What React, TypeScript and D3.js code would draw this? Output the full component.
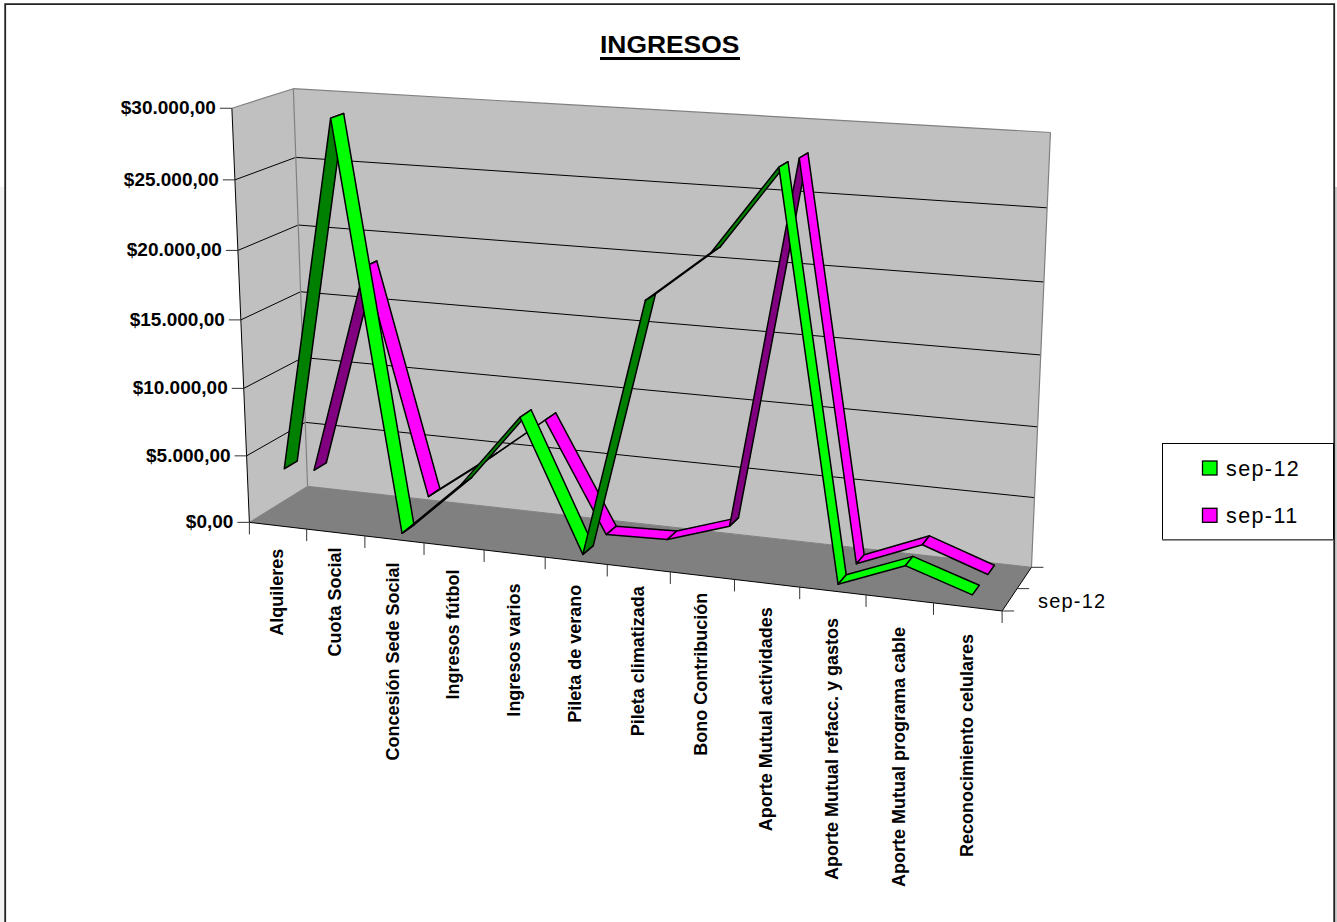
import React from "react";
import * as d3 from "d3";

const categories = ["Alquileres","Cuota Social","Concesión Sede Social","Ingresos fútbol","Ingresos varios","Pileta de verano","Pileta climatizada","Bono Contribución","Aporte Mutual actividades","Aporte Mutual refacc. y gastos","Aporte Mutual programa cable","Reconocimiento celulares"];
const sep12Values = [3900,29500,50,4100,9500,50,18500,22100,28100,50,1900,400];
const sep11Values = [2450,18100,1400,4600,8050,50,200,1700,27900,0,1900,300];
const valueTicks = [0,5000,10000,15000,20000,25000,30000];
const valueLabels = ["$0,00","$5.000,00","$10.000,00","$15.000,00","$20.000,00","$25.000,00","$30.000,00"];
const legendItems = [{name:"sep-12",fill:"#00ff00"},{name:"sep-11",fill:"#ff00ff"}];

// Calibration of the perspective camera: [category, value, depth, screenX, screenY]
const frontFloor = [[0,249.5,521.5],[1,307,529],[2,364.7,536.7],[3,424,544],[4,483.3,551],[5,544,558],[6,608,565],[7,670,572],[8,735,579.3],[9,799,587.3],[10,866,595],[11,934,602.7],[12,1002,610]];
const frontWall = [[5000,247,455],[10000,244,387.7],[15000,241,319],[20000,238,250.7],[25000,235,180],[30000,232,108]];
const backLeft = [[0,307,486],[5000,306,422.3],[10000,303.3,357.7],[15000,300.7,291.7],[20000,298.3,226],[25000,295,157.7],[30000,293,88]];
const backRight = [[0,1032,567],[5000,1034.3,497.7],[10000,1038,426],[15000,1040,354],[20000,1044,283],[25000,1047,208],[30000,1051,133]];
// Gap between the axis line and the end of each rotated category label
const labelGaps = [23,15,23,23,30,24,18,17,24,27,28,27];

const catS = d3.scaleLinear().domain([0,12]).range([0,1]);
const valS = d3.scaleLinear().domain([0,30000]).range([0,1]);

function solve(A:number[][],b:number[]){
  const n=b.length; const M=A.map((r,i)=>[...r,b[i]]);
  for(let i=0;i<n;i++){
    let p=i; for(let r=i+1;r<n;r++) if(Math.abs(M[r][i])>Math.abs(M[p][i])) p=r;
    [M[i],M[p]]=[M[p],M[i]];
    for(let r=i+1;r<n;r++){const f=M[r][i]/M[i][i]; for(let c=i;c<=n;c++) M[r][c]-=f*M[i][c];}
  }
  const x=new Array(n).fill(0);
  for(let i=n-1;i>=0;i--){let s=M[i][n]; for(let c=i+1;c<n;c++) s-=M[i][c]*x[c]; x[i]=s/M[i][i];}
  return x;
}
const correspondences:[number,number,number,number,number][]=[
  ...frontFloor.map(([c,x,y])=>[c,0,0,x,y] as any),
  ...frontWall.map(([v,x,y])=>[0,v,0,x,y] as any),
  ...backLeft.map(([v,x,y])=>[0,v,1,x,y] as any),
  ...backRight.map(([v,x,y])=>[12,v,1,x,y] as any),
];
const cam=(()=>{
  const rows:number[][]=[],rhs:number[]=[];
  for(const [c,v,z,sx,sy] of correspondences){
    const X=catS(c),Y=valS(v),Z=z,u=sx/1000,w=sy/1000;
    rows.push([X,Y,Z,1,0,0,0,0,-u*X,-u*Y,-u*Z]);rhs.push(u);
    rows.push([0,0,0,0,X,Y,Z,1,-w*X,-w*Y,-w*Z]);rhs.push(w);
  }
  const n=11;
  const N=d3.range(n).map(i=>d3.range(n).map(j=>d3.sum(rows,r=>r[i]*r[j])));
  const B=d3.range(n).map(i=>d3.sum(rows,(r,k)=>r[i]*rhs[k]));
  return solve(N,B);
})();
function project(c:number,v:number,z:number):[number,number]{
  const X=catS(c),Y=valS(v),Z=z;
  const d=cam[8]*X+cam[9]*Y+cam[10]*Z+1;
  return [1000*(cam[0]*X+cam[1]*Y+cam[2]*Z+cam[3])/d,1000*(cam[4]*X+cam[5]*Y+cam[6]*Z+cam[7])/d];
}
const pathOf=(pts:[number,number][])=>"M"+pts.map(p=>p[0].toFixed(2)+","+p[1].toFixed(2)).join("L")+"Z";
const lineOf=(a:[number,number],b:[number,number])=>`M${a[0]},${a[1]}L${b[0]},${b[1]}`;

const refSign=Math.sign(d3.polygonArea([project(0,0,0),project(0,0,1),project(12,0,1),project(12,0,0)]));

function Ribbon({values,z0,z1,top,under}:{values:number[];z0:number;z1:number;top:string;under:string}){
  const segs=d3.pairs(values.map((v,i)=>[i+0.5,v] as [number,number]));
  return <g>{segs.map(([a,b],i)=>{
    const q=[project(a[0],a[1],z0),project(a[0],a[1],z1),project(b[0],b[1],z1),project(b[0],b[1],z0)] as [number,number][];
    const s=Math.sign(d3.polygonArea(q));
    return <path key={i} d={pathOf(q)} fill={s===refSign?top:under} stroke="#000" strokeWidth={1.5} strokeLinejoin="round"/>;
  })}</g>;
}

const FONT="'Liberation Sans', Arial, sans-serif";

export default function App(){
  const floor=[project(0,0,0),project(12,0,0),project(12,0,1),project(0,0,1)] as [number,number][];
  const back=[project(0,0,1),project(12,0,1),project(12,30000,1),project(0,30000,1)] as [number,number][];
  const side=[project(0,0,0),project(0,0,1),project(0,30000,1),project(0,30000,0)] as [number,number][];
  return <svg width={1337} height={922} style={{position:"absolute",left:0,top:0,background:"#fff"}} fontFamily={FONT}>
    <rect x={0} y={187} width={4.3} height={735} fill="#f3f3f3"/>
    <rect x={1335} y={187} width={2} height={735} fill="#cccccc"/>
    <path d="M5.2,922V4.2H1334.2V922" fill="none" stroke="#222" strokeWidth={1.8}/>
    <g transform="translate(600,53) scale(1.1,1)">
      <text x={0} y={0} fontSize={24} fontWeight="bold">INGRESOS</text>
    </g>
    <rect x={600} y={57} width={140} height={3} fill="#000"/>

    <path d={pathOf(side)} fill="#c0c0c0"/>
    <path d={pathOf(back)} fill="#c0c0c0"/>
    <path d={pathOf(floor)} fill="#808080"/>
    {valueTicks.slice(1,-1).map(v=><g key={v}>
      <path d={lineOf(project(0,v,0),project(0,v,1))} stroke="#000" fill="none"/>
      <path d={lineOf(project(0,v,1),project(12,v,1))} stroke="#000" fill="none"/>
    </g>)}
    <path d={lineOf(project(0,30000,0),project(0,30000,1))} stroke="#808080" strokeWidth={1.2}/>
    <path d={lineOf(project(0,30000,1),project(12,30000,1))} stroke="#808080" strokeWidth={1.2}/>
    <path d={lineOf(project(0,0,1),project(0,30000,1))} stroke="#808080" strokeWidth={1.2}/>
    <path d={lineOf(project(12,0,1),project(12,30000,1))} stroke="#808080" strokeWidth={1.2}/>
    <path d={lineOf(project(0,0,1),project(12,0,1))} stroke="#808080" strokeWidth={1}/>
    <path d={lineOf(project(0,0,0),project(0,0,1))} stroke="#808080" strokeWidth={1}/>

    <path d={lineOf(project(0,0,0),project(0,30000,0))} stroke="#000"/>
    <path d={lineOf(project(0,0,0),project(12,0,0))} stroke="#000"/>
    <path d={lineOf(project(12,0,0),project(12,0,1))} stroke="#000"/>

    {valueTicks.map((v,i)=>{const [x,y]=project(0,v,0);return <g key={v}>
      <path d={`M${x-12},${y}H${x}`} stroke="#333"/>
      <text x={x-16} y={y+6} textAnchor="end" fontSize={19} fontWeight="bold">{valueLabels[i]}</text>
    </g>;})}
    {d3.range(13).map(c=>{const [x,y]=project(c,0,0);return <path key={c} d={`M${x},${y}V${y+12}`} stroke="#333"/>;})}
    {categories.map((t,i)=>{const [x,y]=project(i+0.5,0,0);return <text key={t} transform={`translate(${x+5},${y+labelGaps[i]}) rotate(-90)`} textAnchor="end" fontSize={18} fontWeight="bold">{t}</text>;})}
    {[0,0.5,1].map(z=>{const [x,y]=project(12,0,z);return <path key={z} d={`M${x},${y}H${x+12}`} stroke="#333"/>;})}
    <text x={1038} y={607.5} fontSize={20} letterSpacing={1.2}>sep-12</text>

    <Ribbon values={sep11Values} z0={0.64} z1={0.86} top="#ff00ff" under="#800080"/>
    <Ribbon values={sep12Values} z0={0.14} z1={0.36} top="#00ff00" under="#008000"/>

    <rect x={1162.5} y={443.5} width={171} height={96} fill="#fff" stroke="#000" strokeWidth={1}/>
    <path d="M1162,540H1333.5" stroke="#777" strokeWidth={1.5}/>
    {legendItems.map((d,i)=><g key={d.name}>
      <rect x={1202.5} y={461+i*47.3} width={14.5} height={14} fill={d.fill} stroke="#000" strokeWidth={1.3}/>
      <text x={1226} y={476+i*47.3} fontSize={21.5} letterSpacing={1.4}>{d.name}</text>
    </g>)}
  </svg>;
}
